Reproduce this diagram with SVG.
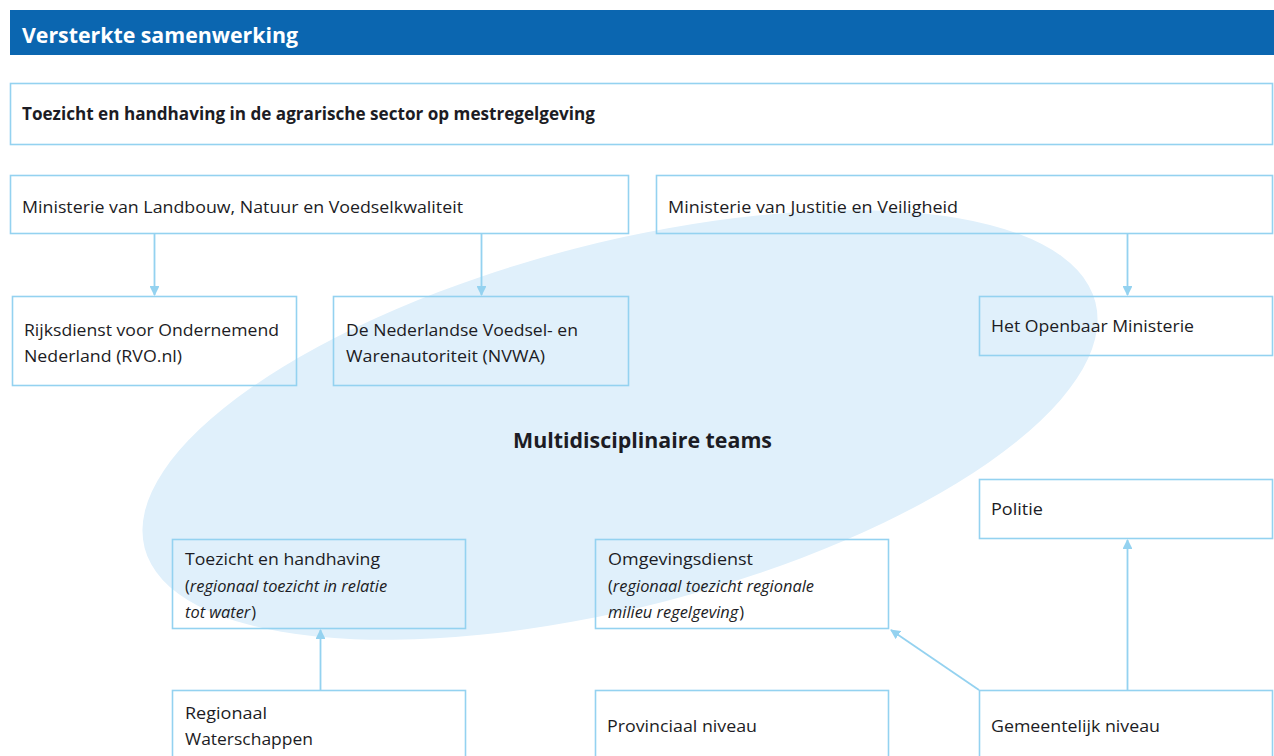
<svg xmlns="http://www.w3.org/2000/svg" width="1274" height="756" viewBox="0 0 1274 756">
<defs>
<style>
.box{fill:none;stroke:#94d2f0;stroke-width:1.6}
.t{font-family:"Open Sans","Noto Sans","Liberation Sans",sans-serif;font-size:17px;fill:#1c1c24}
.s{font-size:16.4px}
.b{font-weight:bold}
.i{font-style:italic}
.con{stroke:#94d2f0;stroke-width:1.8;fill:none;marker-end:url(#ah)}
</style>
<marker id="ah" viewBox="0 0 10 10" refX="9" refY="5" markerWidth="5.5" markerHeight="5.5" orient="auto" markerUnits="strokeWidth">
<path d="M0,0 L10,5 L0,10 z" fill="#94d2f0"/>
</marker>
</defs>
<rect width="1274" height="756" fill="#ffffff"/>
<ellipse id="ellipse" cx="620" cy="425" rx="491" ry="182" transform="rotate(-14.5 620 425)" fill="#e0f0fb"/>
<g id="header">
<rect x="10" y="10" width="1264" height="45" fill="#0b66b0"/>
<text class="t b" x="22" y="43" style="fill:#fff;font-size:22px" textLength="276" lengthAdjust="spacingAndGlyphs">Versterkte samenwerking</text>
</g>
<g id="n-topic">
<rect class="box" x="10.5" y="83.5" width="1262" height="61"/>
<text class="t b" x="22" y="120" textLength="573" lengthAdjust="spacingAndGlyphs">Toezicht en handhaving in de agrarische sector op mestregelgeving</text>
</g>
<g id="n-lnv">
<rect class="box" x="10.5" y="175.5" width="618" height="58"/>
<text class="t" x="22" y="213" textLength="441" lengthAdjust="spacingAndGlyphs">Ministerie van Landbouw, Natuur en Voedselkwaliteit</text>
</g>
<g id="n-jenv">
<rect class="box" x="656.5" y="175.5" width="616" height="58"/>
<text class="t" x="668" y="213" textLength="290" lengthAdjust="spacingAndGlyphs">Ministerie van Justitie en Veiligheid</text>
</g>
<g id="n-rvo">
<rect class="box" x="12.5" y="296.5" width="284" height="89"/>
<text class="t" x="24" y="336" textLength="255" lengthAdjust="spacingAndGlyphs">Rijksdienst voor Ondernemend</text>
<text class="t" x="24" y="362" textLength="158" lengthAdjust="spacingAndGlyphs">Nederland (RVO.nl)</text>
</g>
<g id="n-nvwa">
<rect class="box" x="333.5" y="296.5" width="295" height="89"/>
<text class="t" x="346" y="336" textLength="232" lengthAdjust="spacingAndGlyphs">De Nederlandse Voedsel- en</text>
<text class="t" x="346" y="362" textLength="199" lengthAdjust="spacingAndGlyphs">Warenautoriteit (NVWA)</text>
</g>
<g id="n-om">
<rect class="box" x="979.5" y="296.5" width="293" height="59"/>
<text class="t" x="991" y="332" textLength="203" lengthAdjust="spacingAndGlyphs">Het Openbaar Ministerie</text>
</g>
<g id="n-teams">
<text class="t b" x="513" y="448" style="font-size:21px" textLength="259" lengthAdjust="spacingAndGlyphs">Multidisciplinaire teams</text>
</g>
<g id="n-politie">
<rect class="box" x="979.5" y="479.5" width="293" height="59"/>
<text class="t" x="991" y="515" textLength="52" lengthAdjust="spacingAndGlyphs">Politie</text>
</g>
<g id="n-toezicht">
<rect class="box" x="172.5" y="539.5" width="293" height="89"/>
<text class="t" x="185" y="565" textLength="195" lengthAdjust="spacingAndGlyphs">Toezicht en handhaving</text>
<text class="t s" x="185" y="592">(<tspan class="i">regionaal toezicht in relatie</tspan></text>
<text class="t s" x="185" y="618"><tspan class="i">tot water</tspan><tspan dx="1">)</tspan></text>
</g>
<g id="n-omgeving">
<rect class="box" x="595.5" y="539.5" width="293" height="89"/>
<text class="t" x="608" y="565" textLength="145" lengthAdjust="spacingAndGlyphs">Omgevingsdienst</text>
<text class="t s" x="608" y="592">(<tspan class="i">regionaal toezicht regionale</tspan></text>
<text class="t s" x="608" y="618"><tspan class="i">milieu regelgeving</tspan><tspan dx="1">)</tspan></text>
</g>
<g id="n-regionaal">
<rect class="box" x="172.5" y="690.5" width="293" height="80"/>
<text class="t" x="185" y="719" textLength="82" lengthAdjust="spacingAndGlyphs">Regionaal</text>
<text class="t" x="185" y="745" textLength="128" lengthAdjust="spacingAndGlyphs">Waterschappen</text>
</g>
<g id="n-provinciaal">
<rect class="box" x="595.5" y="690.5" width="293" height="80"/>
<text class="t" x="607" y="732" textLength="150" lengthAdjust="spacingAndGlyphs">Provinciaal niveau</text>
</g>
<g id="n-gemeentelijk">
<rect class="box" x="979.5" y="690.5" width="293" height="80"/>
<text class="t" x="991" y="732" textLength="169" lengthAdjust="spacingAndGlyphs">Gemeentelijk niveau</text>
</g>
<g id="connectors">
<line class="con" x1="154.5" y1="234" x2="154.5" y2="295"/>
<line class="con" x1="481.5" y1="234" x2="481.5" y2="295"/>
<line class="con" x1="1127.5" y1="234" x2="1127.5" y2="295"/>
<line class="con" x1="320.5" y1="690" x2="320.5" y2="630"/>
<line class="con" x1="979" y1="690" x2="891" y2="630"/>
<line class="con" x1="1127.5" y1="690" x2="1127.5" y2="540"/>
</g>
</svg>
